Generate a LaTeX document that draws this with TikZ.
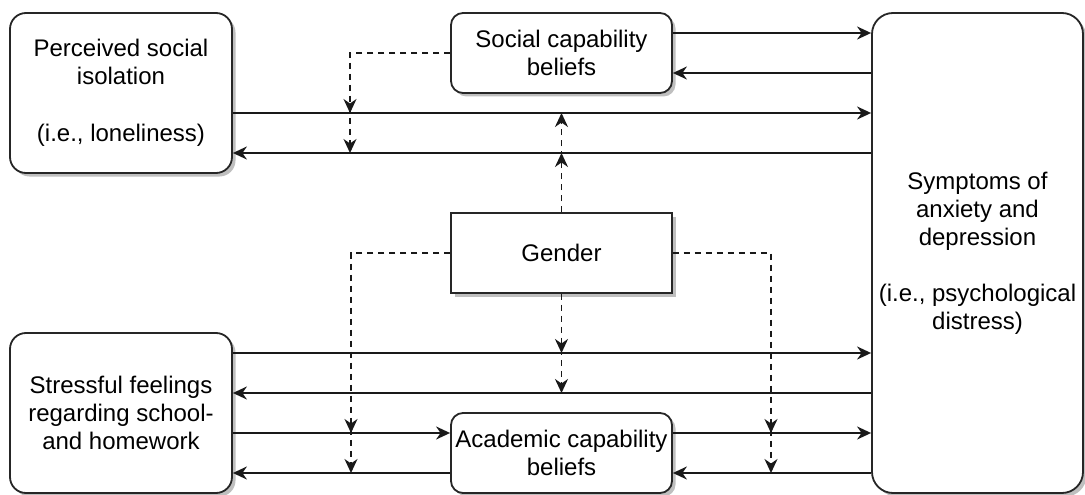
\documentclass[tikz,border=0pt]{standalone}
\usepackage{fontspec}
\setmainfont{Liberation Sans}
\usetikzlibrary{arrows.meta,shadows}
\begin{document}
\begin{tikzpicture}[x=1pt,y=-1pt,
  box/.style={draw=black!85, line width=1.8pt, fill=white, align=center,
    inner sep=0pt, font=\fontsize{24}{28}\selectfont,
    drop shadow={shadow xshift=3.5pt, shadow yshift=-3.5pt, fill=black!25, opacity=1}},
  arr/.style={line width=1.8pt, draw=black!90, -{Stealth[length=14pt,width=13pt,inset=4.5pt]}},
  mod/.style={line width=1.8pt, draw=black!90, dash pattern=on 6pt off 5pt,
    -{Stealth[length=14pt,width=13pt,inset=4.5pt]}}]
\useasboundingbox (0,0) rectangle (1085,495);

% boxes
\node[box, rounded corners=16pt, minimum width=222pt, minimum height=160pt] (P) at (121,93)
  {Perceived social\\isolation\\[29pt](i.e., loneliness)};
\node[box, rounded corners=12pt, minimum width=221pt, minimum height=80pt] (S) at (561.5,53)
  {Social capability\\beliefs};
\node[box, rounded corners=21pt, minimum width=211pt, minimum height=480pt] (D) at (977.5,253)
  {Symptoms of\\anxiety and\\depression\\[28pt](i.e., psychological\\distress)};
\node[box, rounded corners=16pt, minimum width=222pt, minimum height=160pt] (F) at (121,413)
  {Stressful feelings\\regarding school-\\and homework};
\node[box, rounded corners=12pt, minimum width=221pt, minimum height=80pt] (A) at (561.5,453)
  {Academic capability\\beliefs};
\node[box, minimum width=221pt, minimum height=80pt] (G) at (561.5,253) {Gender};

% direct paths
\draw[arr] ([yshift=20pt]S.east) -- ([yshift=20pt]S.east -| D.west);
\draw[arr] ([yshift=-20pt]S.east -| D.west) -- ([yshift=-20pt]S.east);
\draw[arr] ([yshift=-20pt]P.east) -- ([yshift=-20pt]P.east -| D.west);
\draw[arr] ([yshift=-60pt]P.east -| D.west) -- ([yshift=-60pt]P.east);
\draw[arr] ([yshift=60pt]F.east) -- ([yshift=60pt]F.east -| D.west);
\draw[arr] ([yshift=20pt]F.east -| D.west) -- ([yshift=20pt]F.east);
\draw[arr] ([yshift=-20pt]F.east) -- ([yshift=-20pt]F.east -| A.west);
\draw[arr] ([yshift=-60pt]F.east -| A.west) -- ([yshift=-60pt]F.east);
\draw[arr] ([yshift=20pt]A.east) -- ([yshift=20pt]A.east -| D.west);
\draw[arr] ([yshift=-20pt]A.east -| D.west) -- ([yshift=-20pt]A.east);

% points where moderators meet the paths
\coordinate (s1) at (350,113);
\coordinate (s2) at (350,153);
\coordinate (g1) at (561.5,153);
\coordinate (g2) at (561.5,113);
\coordinate (w1) at (351,433);
\coordinate (w2) at (351,473);
\coordinate (b1) at (561.5,353);
\coordinate (b2) at (561.5,393);
\coordinate (e1) at (771,433);
\coordinate (e2) at (771,473);

% moderating paths
\draw[mod] (S.west) -| (s2);
\draw[mod] (S.west) -| (s1);
\draw[mod] (G.north) -- (g2);
\draw[mod] (G.north) -- (g1);
\draw[mod] (G.west) -| (w2);
\draw[mod] (G.west) -| (w1);
\draw[mod] (G.south) -- (b2);
\draw[mod] (G.south) -- (b1);
\draw[mod] (G.east) -| (e2);
\draw[mod] (G.east) -| (e1);
\end{tikzpicture}
\end{document}
